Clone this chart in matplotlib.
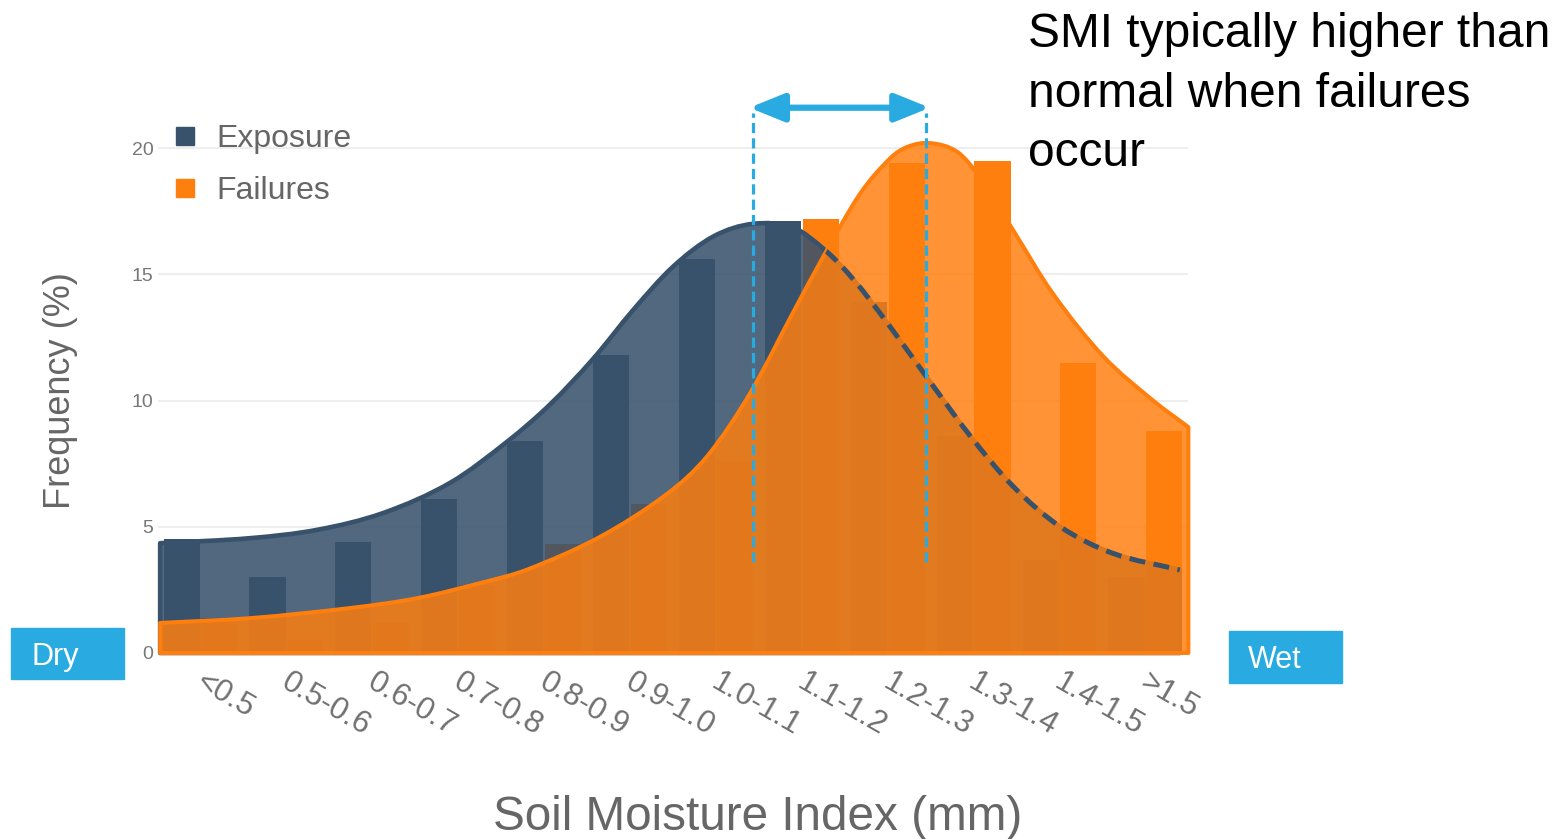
import numpy as np
import matplotlib
matplotlib.use('Agg')
import matplotlib.pyplot as plt
from matplotlib.path import Path
from matplotlib.patches import PathPatch, Rectangle
from matplotlib.lines import Line2D
from matplotlib.colors import to_rgba
from matplotlib.transforms import ScaledTranslation

plt.rcParams['font.family'] = ['Liberation Sans', 'DejaVu Sans']

# SMI bins and % of records in each bin
bins = ['<0.5', '0.5-0.6', '0.6-0.7', '0.7-0.8', '0.8-0.9', '0.9-1.0',
        '1.0-1.1', '1.1-1.2', '1.2-1.3', '1.3-1.4', '1.4-1.5', '>1.5']
exposure = [4.5, 3.0, 4.4, 6.1, 8.4, 11.8, 15.6, 17.1, 13.9, 8.6, 3.7, 3.0]
failures = [1.4, 0.5, 1.2, 2.7, 4.3, 5.9, 7.6, 17.2, 19.4, 19.5, 11.5, 8.8]

# smoothed distribution outlines, knots in bin units
exp_curve_x = [-0.47, 0.58, 1.36, 2.13, 2.91, 3.58, 4.07, 4.57, 5.04, 5.50,
               5.97, 6.43, 6.90, 7.27, 7.60, 7.99, 8.46, 8.96, 9.46, 10.01,
               10.62, 11.40]
exp_curve_y = [4.35, 4.55, 4.88, 5.55, 6.75, 8.4, 9.85, 11.65, 13.6, 15.3,
               16.5, 17.0, 16.85, 15.96, 14.8, 13.1, 10.9, 8.6, 6.6, 5.0,
               3.95, 3.29]
fail_curve_x = [-0.47, 0.58, 1.74, 2.52, 3.29, 3.80, 4.65, 5.43, 5.90, 6.40,
                6.90, 7.25, 7.68, 8.03, 8.23, 8.49, 8.81, 9.07, 9.46, 9.92,
                10.51, 11.09, 11.50]
fail_curve_y = [1.19, 1.38, 1.78, 2.17, 2.8, 3.3, 4.6, 6.3, 7.8, 10.3,
                13.5, 15.7, 18.2, 19.6, 20.05, 20.2, 19.85, 18.85, 16.75, 14.25,
                11.75, 10.0, 8.95]

# bracket showing the shift between the two peaks
smi_lo, smi_hi = 6.43, 8.45
bracket_bottom, bracket_top, arrow_y = 3.6, 21.4, 21.6

navy = '#38526c'
orange = '#ff7f0e'
blue = '#29abe2'
grey = '#666666'


def bezier_segs(xs, ys):
    xs = np.asarray(xs, float)
    ys = np.asarray(ys, float)
    m = np.empty_like(ys)
    m[1:-1] = (ys[2:] - ys[:-2]) / (xs[2:] - xs[:-2])
    m[0] = (ys[1] - ys[0]) / (xs[1] - xs[0])
    m[-1] = (ys[-1] - ys[-2]) / (xs[-1] - xs[-2])
    verts = []
    for i in range(len(xs) - 1):
        h = (xs[i + 1] - xs[i]) / 3
        verts += [(xs[i] + h, ys[i] + m[i] * h),
                  (xs[i + 1] - h, ys[i + 1] - m[i + 1] * h),
                  (xs[i + 1], ys[i + 1])]
    return verts


def curve_path(xs, ys):
    segs = bezier_segs(xs, ys)
    return Path([(xs[0], ys[0])] + segs, [Path.MOVETO] + [Path.CURVE4] * len(segs))


def area_path(xs, ys):
    segs = bezier_segs(xs, ys)
    verts = [(xs[0], 0), (xs[0], ys[0])] + segs + [(xs[-1], 0), (xs[0], 0)]
    codes = ([Path.MOVETO, Path.LINETO] + [Path.CURVE4] * len(segs)
             + [Path.LINETO, Path.CLOSEPOLY])
    return Path(verts, codes)


fig = plt.figure(figsize=(15.54, 8.39), dpi=100)
ax = fig.add_axes([0.1014, 0.2217, 0.6633, 0.677])

x = np.arange(len(bins))
ax.bar(x - 0.22, exposure, 0.42, color=navy, zorder=1.5)
ax.bar(x + 0.22, failures, 0.42, color=orange, zorder=1.5)

exp_area = PathPatch(area_path(exp_curve_x, exp_curve_y), facecolor=to_rgba(navy, 0.87),
                     edgecolor=navy, lw=3.3, zorder=2, clip_on=False, joinstyle='round')
ax.add_patch(exp_area)
fail_area = PathPatch(area_path(fail_curve_x, fail_curve_y), facecolor=to_rgba(orange, 0.84),
                      edgecolor=orange, lw=2.9, zorder=3, clip_on=False, joinstyle='round')
ax.add_patch(fail_area)

# exposure outline stays visible as a dashed line where it sits under the failures
hidden = PathPatch(curve_path(exp_curve_x, exp_curve_y), fill=False, edgecolor=navy,
                   lw=3.6, linestyle=(0, (3.2, 1.7)), zorder=4)
ax.add_patch(hidden)
hidden.set_clip_path(fail_area)

for sx in (smi_lo, smi_hi):
    ax.plot([sx, sx], [bracket_bottom, bracket_top], color=blue, lw=2.3,
            ls=(0, (3.2, 1.6)), zorder=5, clip_on=False)
ax.annotate('', xy=(smi_hi + 0.04, arrow_y), xytext=(smi_lo - 0.04, arrow_y),
            annotation_clip=False,
            arrowprops=dict(arrowstyle='<|-|>,head_length=21,head_width=8.5',
                            mutation_scale=1, lw=4.5, color=blue,
                            shrinkA=0, shrinkB=0), zorder=6)

ax.set_xlim(-0.5, 11.5)
ax.set_ylim(0, 22.5)
ax.set_yticks([0, 5, 10, 15, 20])
ax.yaxis.grid(True, color='#eeeeee', lw=1.5)
ax.set_axisbelow(True)
for s in ax.spines.values():
    s.set_visible(False)
ax.tick_params(axis='y', length=0, pad=3, labelsize=14, labelcolor='#777777')
ax.tick_params(axis='x', length=0, pad=10.5, labelsize=22.5, labelcolor='#707070')
ax.set_xticks(x, bins)
shift = ScaledTranslation(5 / 100, 0, fig.dpi_scale_trans)
for lab in ax.get_xticklabels():
    lab.set_rotation(-30)
    lab.set_rotation_mode('anchor')
    lab.set_ha('left')
    lab.set_va('top')
    lab.set_transform(lab.get_transform() + shift)

fig.text(61 / 1554, 1 - 391 / 839, 'Frequency (%)', rotation=90, ha='center',
         va='center', size=26, color=grey)
fig.text(758 / 1554, 1 - 817 / 839, 'Soil Moisture Index (mm)', ha='center',
         va='center', size=34.3, color=grey)

handles = [Line2D([], [], ls='', marker='s', ms=13, color=navy),
           Line2D([], [], ls='', marker='s', ms=13, color=orange)]
fig.legend(handles, ['Exposure', 'Failures'], loc='upper left',
           bbox_to_anchor=(172 / 1554, 1 - 124 / 839), frameon=False, fontsize=23,
           labelcolor=grey, handlelength=0.8, handletextpad=0.6, borderpad=0,
           borderaxespad=0, labelspacing=0.68)

# dry / wet end markers
fig.patches.append(Rectangle((11 / 1554, 1 - 679 / 839), 113 / 1554, 51 / 839,
                             transform=fig.transFigure, color=blue))
fig.patches.append(Rectangle((1229 / 1554, 1 - 683 / 839), 113 / 1554, 52 / 839,
                             transform=fig.transFigure, color=blue))
fig.text(31 / 1554, 1 - 657 / 839, 'Dry', ha='left', va='center', size=22, color='white')
fig.text(1248 / 1554, 1 - 660 / 839, 'Wet', ha='left', va='center', size=22, color='white')

fig.text(1028 / 1554, 1 - 12 / 839, 'SMI typically higher than\nnormal when failures\noccur',
         ha='left', va='top', size=34.5, color='black', linespacing=1.42)

fig.savefig('out.png', dpi=100)
